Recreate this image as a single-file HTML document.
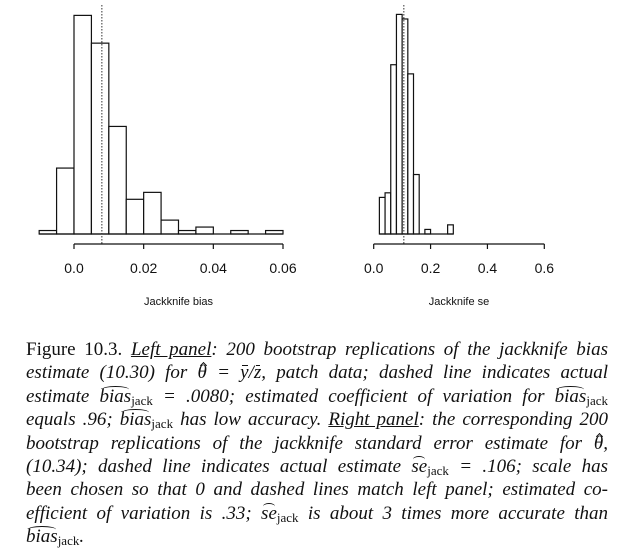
<!DOCTYPE html>
<html><head><meta charset="utf-8">
<style>
html,body{margin:0;padding:0;background:#fff;}
body{width:637px;height:557px;position:relative;overflow:hidden;font-family:"Liberation Serif",serif;}
svg text{font-family:"Liberation Sans",sans-serif;fill:#111;}
.cap{position:absolute;left:26px;width:582px;font-size:19px;line-height:23px;color:#111;}
.ln{display:block;text-align:justify;text-align-last:justify;white-space:nowrap;height:23.4px;}
.ln.last{text-align-last:left;}
i{font-style:italic;}
.h{position:relative;display:inline-block;}
.h::before{content:"";position:absolute;left:2px;right:2px;top:1px;height:6px;border-top:1.2px solid #111;border-radius:50% 50% 0 0;}
.t{position:relative;display:inline-block;}
.t::before{content:"";position:absolute;left:3px;top:2px;width:4px;height:4px;border-left:1px solid #111;border-top:1px solid #111;transform:rotate(45deg);}
.b{position:relative;display:inline-block;}
.b::before{content:"";position:absolute;left:2px;right:1px;top:4px;border-top:1px solid #111;}
sub{font-size:13px;font-style:normal;vertical-align:-3px;line-height:0;}
u{text-decoration:underline;}
</style></head>
<body>
<svg id="chart" width="637" height="320" style="position:absolute;left:0;top:0"></svg>
<div class="cap" style="top:338px">
<span class="ln">Figure 10.3. <i><u>Left panel</u>: 200 bootstrap replications of the jackknife bias</i></span>
<span class="ln"><i>estimate (10.30) for <span class="t">θ</span> = <span class="b">y</span>/<span class="b">z</span>, patch data; dashed line indicates actual</i></span>
<span class="ln"><i>estimate <span class="h">bias</span><sub>jack</sub> = .0080; estimated coefficient of variation for <span class="h">bias</span><sub>jack</sub></i></span>
<span class="ln"><i>equals .96; <span class="h">bias</span><sub>jack</sub> has low accuracy. <u>Right panel</u>: the corresponding 200</i></span>
<span class="ln"><i>bootstrap replications of the jackknife standard error estimate for <span class="t">θ</span>,</i></span>
<span class="ln"><i>(10.34); dashed line indicates actual estimate <span class="h">se</span><sub>jack</sub> = .106; scale has</i></span>
<span class="ln"><i>been chosen so that 0 and dashed lines match left panel; estimated co-</i></span>
<span class="ln"><i>efficient of variation is .33; <span class="h">se</span><sub>jack</sub> is about 3 times more accurate than</i></span>
<span class="ln last"><i><span class="h">bias</span><sub>jack</sub>.</i></span>
</div>
<script>
const leftStart = -0.01;
const leftBinWidth = 0.005;
const leftCounts = [1,19,63,55,31,10,12,4,1,2,0,1,0,1];
const leftTicks = [0, 0.02, 0.04, 0.06];
const leftTickLabels = ["0.0","0.02","0.04","0.06"];
const leftDashed = 0.008;
const rightStart = 0.02;
const rightBinWidth = 0.02;
const rightCounts = [8,9,37,48,47,35,13,0,1,0,0,0,2];
const rightTicks = [0, 0.2, 0.4, 0.6];
const rightTickLabels = ["0.0","0.2","0.4","0.6"];
const rightDashed = 0.106;

const NS="http://www.w3.org/2000/svg";
const svg=document.getElementById('chart');
function mk(tag,attrs,parent){const e=document.createElementNS(NS,tag);for(const k in attrs)e.setAttribute(k,attrs[k]);(parent||svg).appendChild(e);return e;}

function panel(opts){
  const g=mk('g',{});
  
  
  const x=v=>opts.x0+(v-opts.d0)/(opts.d1-opts.d0)*(opts.x1-opts.x0);
  const base=234;
  const y=c=>base-c*opts.pxPerCount;
  opts.counts.forEach((c,i)=>{
    if(c<=0)return;
    const a=opts.start+i*opts.bw, b=a+opts.bw;
    const r=mk('rect',{x:x(a),y:y(c),width:x(b)-x(a),height:base-y(c),fill:'#fff',stroke:'#111','stroke-width':1.2},g);
    
    
  });
  const bl=mk('line',{x1:x(opts.start),x2:x(opts.start+opts.counts.length*opts.bw),y1:base,y2:base,stroke:'#111','stroke-width':1.2},g);
  
  
  const dl=mk('line',{x1:x(opts.dashed),x2:x(opts.dashed),y1:5,y2:245,stroke:'#333','stroke-width':1,'stroke-dasharray':'1.5,1.5'},g);
  
  
  const ax=mk('line',{x1:x(opts.ticks[0]),x2:x(opts.ticks[opts.ticks.length-1]),y1:244,y2:244,stroke:'#111','stroke-width':1.2},g);
  
  
  opts.ticks.forEach((t,i)=>{
    mk('line',{x1:x(t),x2:x(t),y1:244,y2:249,stroke:'#111','stroke-width':1.2},g);
    const tx=mk('text',{x:x(t),y:273,'text-anchor':'middle','font-size':14},g);
    tx.textContent=opts.labels[i];
    
    
  });
  const tt=mk('text',{x:(x(opts.ticks[0])+x(opts.ticks[opts.ticks.length-1]))/2,y:305,'text-anchor':'middle','font-size':11},g);
  tt.textContent=opts.title;
  
  
}
panel({name:'left-panel-bias',x0:74,x1:283,d0:0,d1:0.06,start:leftStart,bw:leftBinWidth,counts:leftCounts,pxPerCount:3.47,ticks:leftTicks,labels:leftTickLabels,dashed:leftDashed,title:'Jackknife bias'});
panel({name:'right-panel-se',x0:373.7,x1:544.3,d0:0,d1:0.6,start:rightStart,bw:rightBinWidth,counts:rightCounts,pxPerCount:4.575,ticks:rightTicks,labels:rightTickLabels,dashed:rightDashed,title:'Jackknife se'});
</script>
</body></html>
